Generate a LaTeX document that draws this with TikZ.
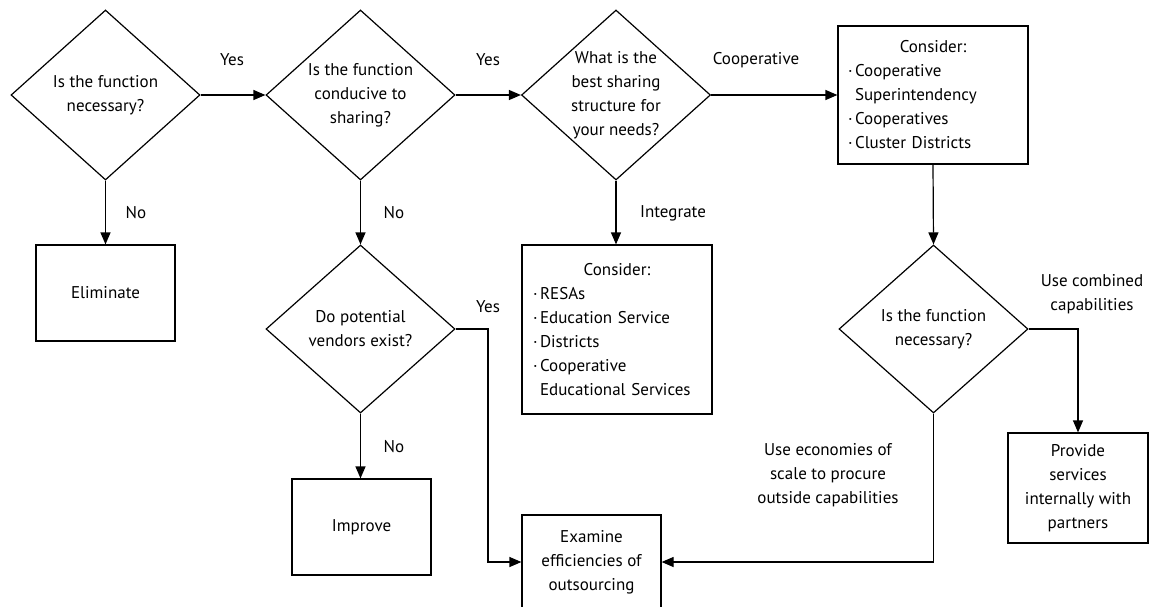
\documentclass[tikz,border=0pt]{standalone}
\usepackage{fontspec}
\setmainfont{PT Sans}
\usetikzlibrary{shapes.geometric,arrows.meta}
\newcommand{\bulmark}{·\kern2.5pt}
\newcommand{\bulskip}{\hphantom{\bulmark}}
\begin{document}
\begin{tikzpicture}[x=1pt,y=-1pt,
  every node/.style={font=\fontsize{17}{24}\selectfont},
  dia/.style={draw, diamond, minimum width=189pt, minimum height=170pt, inner sep=0pt, line width=1.2pt},
  box/.style={draw, rectangle, inner sep=0pt, line width=1.2pt},
  txt/.style={align=center, inner sep=0pt},
  lbl/.style={inner sep=0pt},
  arr/.style={line width=1.2pt, -{Triangle[length=12pt,width=10pt]}}
]
\path[use as bounding box, clip] (0,0) rectangle (1151,606);
% diamonds
\node[dia] (d1) at (105.5,95) {};
\node[txt] (t1) at (d1) {Is the function\\necessary?};
\node[dia] (d2) at (360.5,95) {};
\node[txt] (t2) at (d2) {Is the function\\conducive to\\sharing?};
\node[dia] (d3) at (616,95) {};
\node[txt] (t3) at (d3) {What is the\\best sharing\\structure for\\your needs?};
\node[dia, minimum height=168pt] (d4) at (360.5,329) {};
\node[txt] (t4) at (d4) {Do potential\\vendors exist?};
\node[dia, minimum height=168pt] (d5) at (933.5,329) {};
\node[txt] (t5) at (d5) {Is the function\\necessary?};
% boxes
\node[box, minimum width=139pt, minimum height=96pt] (elim) at (105.5,293) {Eliminate};
\node[box, minimum width=139pt, minimum height=96pt] (imp) at (361.5,527) {Improve};
\node[box, minimum width=190pt, minimum height=138pt, text width=170pt, align=left] (coop) at (933,95)
  {\makebox[170pt]{Consider:}\\\bulmark Cooperative\\\bulskip Superintendency\\\bulmark Cooperatives\\\bulmark Cluster Districts};
\node[box, minimum width=190pt, minimum height=169pt, text width=168pt, align=left] (integ) at (617,329.5)
  {\makebox[168pt]{Consider:}\\\bulmark RESAs\\\bulmark Education Service\\\bulmark Districts\\\bulmark Cooperative\\\bulskip Educational Services};
\node[box, minimum width=139pt, minimum height=94pt, align=center] (exam) at (591.5,562)
  {Examine\\efficiencies of\\outsourcing};
\node[box, minimum width=140pt, minimum height=110pt, align=center] (prov) at (1078,488)
  {Provide\\services\\internally with\\partners};
% connectors
\coordinate (c1) at (488,329);
\draw[arr] (d1.east) -- (d2.west);
\draw[arr] (d1.south) -- (elim.north);
\draw[arr] (d2.east) -- (d3.west);
\draw[arr] (d2.south) -- (d4.north);
\draw[arr] (d3.east) -- (coop.west);
\draw[arr] (d3.south) -- (d3.south |- integ.north);
\draw[arr] (coop.south) -- (d5.north);
\draw[arr] (d4.south) -- (d4.south |- imp.north);
\draw[arr] (d4.east) -- (c1) |- (exam.west);
\draw[arr] (d5.east) -| (prov.north);
\draw[arr] (d5.south) |- (exam.east);
% labels
\node[lbl] (y1) at (232,60) {Yes};
\node[lbl] (y2) at (488,60) {Yes};
\node[lbl] (co) at (756,60) {Cooperative};
\node[lbl] (n1) at (136,213) {No};
\node[lbl] (n2) at (394,213) {No};
\node[lbl] (ig) at (673,213) {Integrate};
\node[lbl] (y3) at (488,307) {Yes};
\node[lbl] (n3) at (394,447) {No};
\node[lbl, align=center] (uc) at (1092,294) {Use combined\\capabilities};
\node[lbl, align=center] (ue) at (828,475) {Use economies of\\scale to procure\\outside capabilities};
\end{tikzpicture}
\end{document}
